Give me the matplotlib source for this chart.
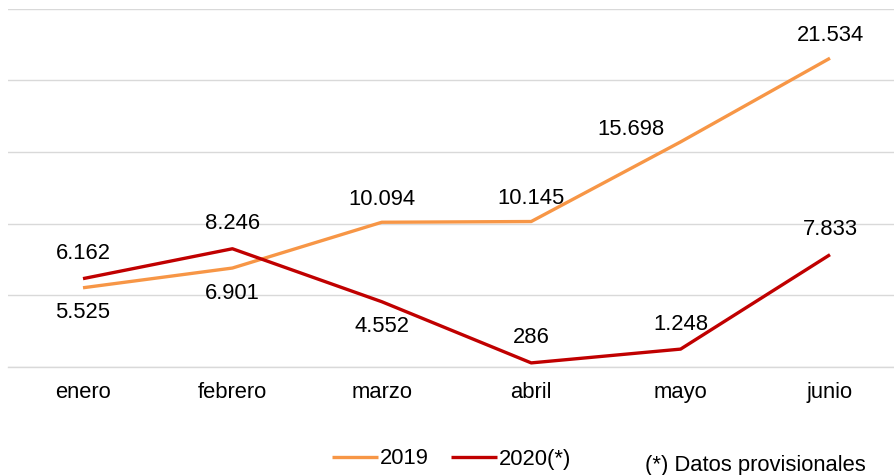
import matplotlib
matplotlib.use("Agg")
import matplotlib.pyplot as plt

plt.rcParams['font.family'] = ['Liberation Sans', 'DejaVu Sans']

months = ["enero", "febrero", "marzo", "abril", "mayo", "junio"]
v2019 = [5525, 6901, 10094, 10145, 15698, 21534]
v2020 = [6162, 8246, 4552, 286, 1248, 7833]
series_names = ["2019", "2020(*)"]
note = "(*) Datos provisionales"

def fmt(v):
    return f"{v:,}".replace(",", ".")

c2019 = "#F79646"
c2020 = "#C00000"
FS = 15.8

W, H = 894, 475
fig = plt.figure(figsize=(W / 100, H / 100), dpi=100)
left_px, right_px = 8.3, 904.7
bot_px, top_px = 367, 8.5
ax = fig.add_axes([left_px / W, (H - bot_px) / H, (right_px - left_px) / W, (bot_px - top_px) / H])

x = list(range(len(months)))
ax.plot(x, v2019, color=c2019, lw=2.4, label=series_names[0], solid_capstyle='butt', zorder=3)
ax.plot(x, v2020, color=c2020, lw=2.4, label=series_names[1], solid_capstyle='butt', zorder=3)

ax.set_xlim(-0.5, len(months) - 0.5)
ax.set_ylim(0, 25000)
ax.set_yticks(range(0, 25001, 5000))
ax.yaxis.grid(True, color="#D9D9D9", lw=1)
ax.set_axisbelow(True)
ax.tick_params(axis='y', left=False, labelleft=False)
ax.tick_params(axis='x', bottom=False, labelsize=FS, pad=7)
ax.set_xticks(x)
ax.set_xticklabels(months)
for s in ["top", "right", "left"]:
    ax.spines[s].set_visible(False)
ax.spines["bottom"].set_color("#D9D9D9")
ax.spines["bottom"].set_linewidth(1)

# label offsets in pixels (dx, dy)
off2019 = [(0, -25), (0, -25), (0, 23), (0, 23), (-50, 12), (0, 23)]
off2020 = [(0, 25), (0, 25), (0, -25), (0, 25), (0, 25), (0, 25)]

def px2pt(p):
    return p * 72 / 100

for xi, v, (dx, dy) in zip(x, v2019, off2019):
    ax.annotate(fmt(v), (xi, v), xytext=(px2pt(dx), px2pt(dy)), textcoords="offset points",
                ha="center", va="center", fontsize=FS, color="#000000", annotation_clip=False)
for xi, v, (dx, dy) in zip(x, v2020, off2020):
    ax.annotate(fmt(v), (xi, v), xytext=(px2pt(dx), px2pt(dy)), textcoords="offset points",
                ha="center", va="center", fontsize=FS, color="#000000", annotation_clip=False)

leg = fig.legend(loc="center left", bbox_to_anchor=(332 / W, 1 - 459 / H), ncol=2, frameon=False,
                 fontsize=FS, handlelength=2.1, handletextpad=0.1, columnspacing=1.0,
                 borderpad=0, borderaxespad=0)

fig.text(645 / W, 1 - 465 / H, note, ha="left", va="center", fontsize=FS)

fig.savefig("out.png", dpi=100)
